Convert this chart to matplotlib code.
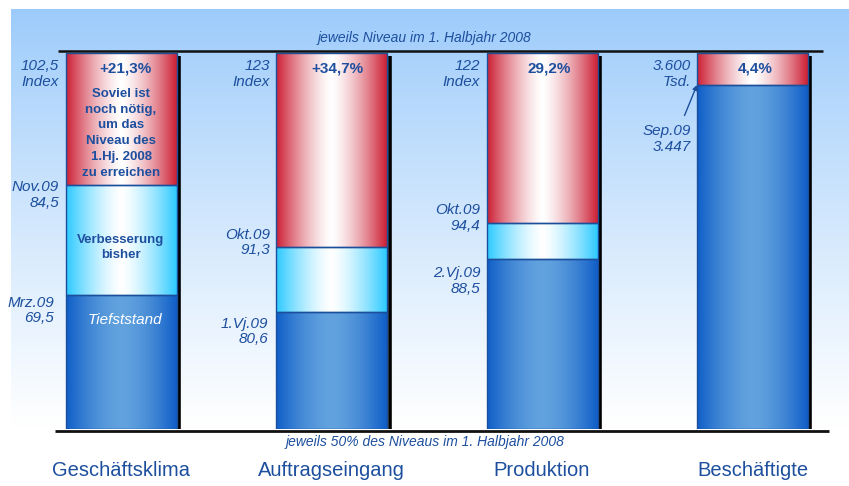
import numpy as np
import matplotlib.pyplot as plt
from matplotlib.colors import to_rgb
from matplotlib.patches import Rectangle

plt.rcParams['font.family'] = ['Liberation Sans', 'DejaVu Sans']

categories = ['Geschäftsklima', 'Auftragseingang', 'Produktion', 'Beschäftigte']
ref_values = [102.5, 123, 122, 3600]      # Niveau im 1. Halbjahr 2008
latest_values = [84.5, 91.3, 94.4, 3447]  # aktueller Stand
low_values = [69.5, 80.6, 88.5, 3447]     # Tiefststand
ref_labels = ['102,5\nIndex', '123\nIndex', '122\nIndex', '3.600\nTsd.']
latest_labels = ['Nov.09\n84,5', 'Okt.09\n91,3', 'Okt.09\n94,4', 'Sep.09\n3.447']
low_labels = ['Mrz.09\n69,5', '1.Vj.09\n80,6', '2.Vj.09\n88,5', None]
gap_labels = ['+21,3%', '+34,7%', '29,2%', '4,4%']

TXT = '#1d4f9e'
EDGE = '#1b4f9c'

fig = plt.figure(figsize=(8.49, 4.86), dpi=100)

# background gradient
bg = fig.add_axes([0, 0, 1, 1])
bg.set_xlim(0, 849)
bg.set_ylim(486, 0)
bg.axis('off')
top = np.array(to_rgb('#9ccbfb'))
grad = np.linspace(0, 1, 200)[:, None, None]
img = top + (1 - top) * grad ** 0.9
bg.imshow(img, extent=(11, 849, 427, 10), aspect='auto', zorder=0)

ax = fig.add_axes([0, 57 / 486, 1, 376 / 486])
ax.patch.set_alpha(0)
px = 1 / 210.5   # data units per pixel (x)
w = 111 * px


def hgrad(edge, center, p):
    t = np.linspace(-1, 1, 256)
    f = (1 - np.abs(t) ** p)[None, :, None]
    e = np.array(to_rgb(edge))
    c = np.array(to_rgb(center))
    return e + (c - e) * f


blue = hgrad('#0f5ec8', '#62a2de', 1.6)
cyan = hgrad('#2ccaff', '#ffffff', 1.4)
red = hgrad('#cc1f34', '#ffffff', 1.4)

for i in range(len(categories)):
    low = low_values[i] / ref_values[i] * 100
    mid = latest_values[i] / ref_values[i] * 100
    x0, x1 = i - w / 2, i + w / 2
    segs = [(50, low, blue), (low, mid, cyan), (mid, 100, red)]
    for y0, y1, g in segs:
        if y1 - y0 <= 0:
            continue
        ax.imshow(g, extent=(x0, x1, y0, y1), aspect='auto', zorder=2)
        ax.add_patch(Rectangle((x0, y0), w, y1 - y0, fill=False,
                               edgecolor=EDGE, lw=1.0, zorder=3))
    # shadow
    ax.vlines(x1 + 2.5 * px, 50, 99.6, color='black', lw=2.6, zorder=1.5)

    # labels left of bar
    ax.annotate(ref_labels[i], (x0, 100), xytext=(-4.5, -15), textcoords='offset points',
                ha='right', va='center', fontsize=11, style='italic', color=TXT,
                linespacing=1.15, zorder=5)
    dy = [-7, 3, 3.5, -39][i]
    ax.annotate(latest_labels[i], (x0, mid), xytext=(-4.5, dy), textcoords='offset points',
                ha='right', va='center', fontsize=11, style='italic', color=TXT,
                linespacing=1.15, zorder=5)
    if low_labels[i]:
        dy = [-11, -14, -15.5][i]
        dx = [-8, -5.5, -4.5][i]
        ax.annotate(low_labels[i], (x0, low), xytext=(dx, dy), textcoords='offset points',
                    ha='right', va='center', fontsize=11, style='italic', color=TXT,
                    linespacing=1.15, zorder=5)
    dx = [3, 4, 5.5, 2][i]
    ax.annotate(gap_labels[i], (i, 100), xytext=(dx, -11.5), textcoords='offset points',
                ha='center', va='center', fontsize=11, fontweight='bold', color=TXT, zorder=5)

# arrow for Beschaeftigte
b_low = low_values[3] / ref_values[3] * 100
ax.annotate('', xy=(3 - w / 2, b_low), xytext=(-9, -22), textcoords='offset points',
            arrowprops=dict(arrowstyle='-|>', color=TXT, lw=1.0, mutation_scale=7,
                            shrinkA=0, shrinkB=0),
            annotation_clip=False, zorder=5)

# explanatory texts in first bar
m0 = latest_values[0] / ref_values[0] * 100
l0 = low_values[0] / ref_values[0] * 100
ax.text(0, (100 + m0) / 2 - 1.9, 'Soviel ist\nnoch nötig,\num das\nNiveau des\n1.Hj. 2008\nzu erreichen',
        ha='center', va='center', fontsize=9.5, fontweight='bold', color=TXT,
        linespacing=1.42, zorder=5)
ax.text(0, (m0 + l0) / 2 - 1.0, 'Verbesserung\nbisher', ha='center', va='center',
        fontsize=9.5, fontweight='bold', color=TXT, linespacing=1.3, zorder=5)
ax.annotate('Tiefststand', (0, l0), xytext=(3, -18), textcoords='offset points',
            ha='center', va='center', fontsize=11, style='italic', color='white', zorder=5)

# reference lines
ax.hlines(100.27, -0.3, 3.335, color='#111111', lw=1.8, zorder=4, clip_on=False)
ax.hlines(49.8, -0.314, 3.365, color='#111111', lw=2.0, zorder=4, clip_on=False)

ax.set_xlim(-121 * px, (849 - 121) * px)
ax.set_ylim(50, 100)
ax.axis('off')

fig.text(0.5, 1 - 38 / 486, 'jeweils Niveau im 1. Halbjahr 2008', ha='center', va='center',
         fontsize=10, style='italic', color=TXT)
fig.text(0.5, 1 - 442 / 486, 'jeweils 50% des Niveaus im 1. Halbjahr 2008', ha='center',
         va='center', fontsize=10, style='italic', color=TXT)
for i, c in enumerate(categories):
    ax.annotate(c, (i, 50), xytext=(0, -30), textcoords='offset points', ha='center',
                va='center', fontsize=14.5, color=TXT, annotation_clip=False)

fig.savefig('out.png', dpi=100)
